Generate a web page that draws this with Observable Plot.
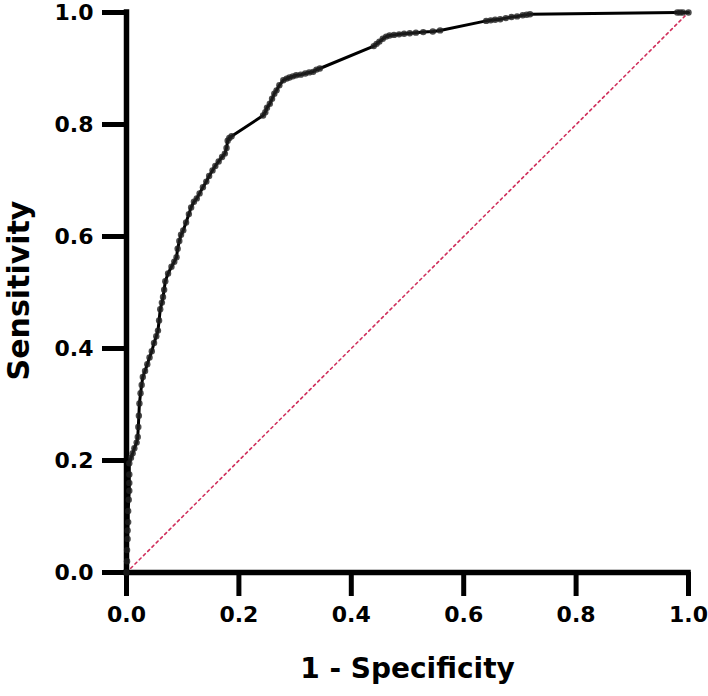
<!DOCTYPE html>
<html>
<head>
<meta charset="utf-8">
<script src="https://cdn.jsdelivr.net/npm/d3@7"></script>
<script src="https://cdn.jsdelivr.net/npm/@observablehq/plot@0.6"></script>
<style>
  html, body { margin: 0; padding: 0; background: #fff; }
</style>
</head>
<body>
<div id="chart"></div>
<script>
// ROC curve points: 1 - specificity (false positive rate) and sensitivity
const fpr = [
  0, 0.001, 0.001, 0.002, 0.002, 0.003, 0.003, 0.004, 0.005, 0.005, 0.005, 0.005,
  0.008, 0.011, 0.014, 0.018, 0.020, 0.021, 0.022, 0.023, 0.025, 0.027, 0.029,
  0.033, 0.037, 0.041, 0.045, 0.049, 0.053, 0.056, 0.058, 0.060, 0.063, 0.065,
  0.067, 0.069, 0.074, 0.080, 0.085, 0.089, 0.091, 0.094, 0.097, 0.101, 0.106,
  0.111, 0.115, 0.120, 0.125, 0.130, 0.136, 0.142, 0.147, 0.153, 0.158, 0.164,
  0.170, 0.175, 0.178, 0.180, 0.183, 0.187,
  0.243, 0.247, 0.250, 0.255, 0.259, 0.263, 0.267, 0.272, 0.279, 0.285, 0.290,
  0.296, 0.302, 0.310, 0.318, 0.325, 0.332, 0.338, 0.344,
  0.440, 0.445, 0.450, 0.456, 0.462, 0.468, 0.476, 0.485, 0.494, 0.504, 0.515,
  0.528, 0.545, 0.558,
  0.640, 0.648, 0.656, 0.665, 0.675, 0.685, 0.695, 0.705, 0.712, 0.718,
  0.980, 0.985, 0.990, 1.000
];
const tpr = [
  0, 0.020, 0.040, 0.060, 0.075, 0.090, 0.110, 0.130, 0.146, 0.160, 0.175, 0.195,
  0.205, 0.213, 0.222, 0.232, 0.242, 0.260, 0.280, 0.302, 0.320, 0.335, 0.349,
  0.360, 0.372, 0.384, 0.395, 0.410, 0.422, 0.432, 0.450, 0.470, 0.482, 0.492,
  0.505, 0.520, 0.534, 0.546, 0.555, 0.563, 0.578, 0.592, 0.603, 0.611, 0.625,
  0.640, 0.652, 0.662, 0.668, 0.677, 0.688, 0.698, 0.708, 0.718, 0.726, 0.734,
  0.742, 0.748, 0.758, 0.771, 0.776, 0.779,
  0.816, 0.822, 0.830, 0.837, 0.846, 0.855, 0.861, 0.870, 0.879, 0.882, 0.884,
  0.886, 0.888, 0.889, 0.891, 0.893, 0.894, 0.898, 0.900,
  0.940, 0.944, 0.948, 0.953, 0.957, 0.959, 0.960, 0.961, 0.962, 0.963, 0.964,
  0.965, 0.966, 0.968,
  0.985, 0.986, 0.987, 0.988, 0.990, 0.992, 0.993, 0.995, 0.996, 0.997,
  1.000, 1.000, 1.000, 1.000
];
const tickValues = [0, 0.2, 0.4, 0.6, 0.8, 1.0];
const diagonal = [[0, 0], [1, 1]];
const xTitle = "1 - Specificity";
const yTitle = "Sensitivity";

const roc = fpr.map((x, i) => ({x, y: tpr[i]}));
const font = "'DejaVu Sans', 'Liberation Sans', Arial, sans-serif";

const chart = Plot.plot({
  width: 708,
  height: 696,
  marginLeft: 126,
  marginRight: 20,
  marginTop: 12,
  marginBottom: 124,
  style: {fontFamily: font, background: "#fff", color: "#000"},
  x: {domain: [0, 1]},
  y: {domain: [0, 1]},
  marks: [
    Plot.line(diagonal, {x: d => d[0], y: d => d[1], stroke: "#d0305c", strokeWidth: 1.6, strokeDasharray: "2.5,3.5"}),
    Plot.axisX({ticks: tickValues, tickFormat: d3.format(".1f"), tickSize: 24, tickPadding: 10,
      strokeWidth: 5, fontSize: 22, fontWeight: "bold", label: null}),
    Plot.axisY({ticks: tickValues, tickFormat: d3.format(".1f"), tickSize: 24, tickPadding: 9,
      strokeWidth: 5, fontSize: 22, fontWeight: "bold", label: null}),
    Plot.ruleY([0], {strokeWidth: 5.5, strokeLinecap: "square"}),
    Plot.ruleX([0], {strokeWidth: 5.5, strokeLinecap: "square"}),
    Plot.line(roc, {x: "x", y: "y", stroke: "#000", strokeWidth: 3}),
    Plot.dot(roc, {x: "x", y: "y", r: 3.2, fill: "#1e1e1e", fillOpacity: 0.8, stroke: "none"}),
    Plot.text([xTitle], {frameAnchor: "bottom", dy: 97, fontSize: 28, fontWeight: "bold", textAnchor: "middle", lineAnchor: "middle"}),
    Plot.text([yTitle], {frameAnchor: "left", dx: -107, dy: -2, rotate: -90, fontSize: 30, fontWeight: "bold", textAnchor: "middle", lineAnchor: "middle"})
  ]
});
document.getElementById("chart").appendChild(chart);
</script>
</body>
</html>
